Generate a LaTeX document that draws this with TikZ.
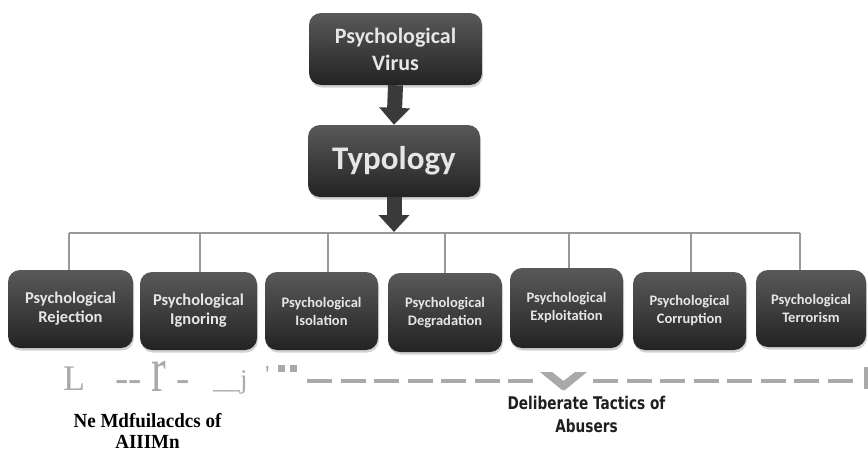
\documentclass[tikz,border=0pt]{standalone}
\usepackage{fontspec}
\usepackage{graphicx}
\setmainfont{Liberation Serif}
\newfontfamily\boxfont{Carlito}
\newfontfamily\tacfont[FakeStretch=0.78]{DejaVu Sans}
\newfontfamily\capfont[FakeStretch=0.95]{Liberation Serif}
\usetikzlibrary{arrows.meta,shadows}
\definecolor{boxtop}{HTML}{595959}
\definecolor{boxbot}{HTML}{232323}
\definecolor{boxtxt}{HTML}{E6E6E6}
\definecolor{connc}{HTML}{999999}
\definecolor{faint}{HTML}{A9A9A9}
\definecolor{arrowc}{HTML}{3A3A3A}
\begin{document}
\begin{tikzpicture}[x=1pt,y=-1pt,
  darkbox/.style={rounded corners=12pt, top color=boxtop, bottom color=boxbot, draw=none,
    text=boxtxt, align=center, inner sep=0pt,
    drop shadow={opacity=0.35, shadow xshift=1pt, shadow yshift=-2.5pt}},
  bigtxt/.style={font=\boxfont\bfseries\fontsize{16.5}{19}\selectfont},
  smalltxt/.style={font=\boxfont\bfseries\fontsize{14.5}{18}\selectfont},
  conn/.style={draw=connc, line width=2pt},
  blockarrow/.style={draw=arrowc, line width=15pt, -{Triangle[width=30pt,length=17pt]}},
  faintline/.style={draw=faint, line width=4pt},
  faintext/.style={text=faint, inner sep=0pt, anchor=base west}
]
\useasboundingbox (0,0) rectangle (868,453);
\fill[white] (0,0) rectangle (868,453);

% top boxes
\node[darkbox, minimum width=173pt, minimum height=72pt,
  font=\boxfont\bfseries\fontsize{22}{27}\selectfont] (virus) at (395.5,49) {Psychological\\Virus};
\node[darkbox, minimum width=172pt, minimum height=72pt,
  font=\boxfont\bfseries\fontsize{33}{36}\selectfont] (typo) at (394,161) {Typology};

% bottom boxes
\node[darkbox, bigtxt, minimum width=125pt, minimum height=78pt] (b1) at (70.5,309) {Psychological\\Rejection};
\node[darkbox, bigtxt, minimum width=117pt, minimum height=78pt] (b2) at (198.5,311) {Psychological\\Ignoring};
\node[darkbox, smalltxt, minimum width=113pt, minimum height=78pt] (b3) at (321.5,311) {Psychological\\Isolation};
\node[darkbox, smalltxt, minimum width=114pt, minimum height=79pt] (b4) at (445,312.5) {Psychological\\Degradation};
\node[darkbox, smalltxt, minimum width=113pt, minimum height=80pt] (b5) at (566.5,308) {Psychological\\Exploitation};
\node[darkbox, smalltxt, minimum width=113pt, minimum height=78pt] (b6) at (689.5,311) {Psychological\\Corruption};
\node[darkbox, smalltxt, minimum width=110pt, minimum height=77pt] (b7) at (811,308.5) {Psychological\\Terrorism};

% arrows
\coordinate (hub) at (394,233);
\draw[blockarrow] (virus.south) -- (typo.north);
\draw[blockarrow] (typo.south) -- ([yshift=1pt]hub);

% bus
\draw[conn] ([xshift=-1.5pt]b1.north |- hub) -- ([xshift=-11pt]b7.north |- hub);
\draw[conn] ([xshift=-1.5pt]b1.north) -- ([xshift=-1.5pt]b1.north |- hub);
\draw[conn] ([xshift=1.5pt]b2.north) -- ([xshift=1.5pt]b2.north |- hub);
\draw[conn] ([xshift=6.5pt]b3.north) -- ([xshift=6.5pt]b3.north |- hub);
\draw[conn] (b4.north) -- (b4.north |- hub);
\draw[conn] ([xshift=2.5pt]b5.north) -- ([xshift=2.5pt]b5.north |- hub);
\draw[conn] ([xshift=1.5pt]b6.north) -- ([xshift=1.5pt]b6.north |- hub);
\draw[conn] ([xshift=-11pt]b7.north) -- ([xshift=-11pt]b7.north |- hub);

% faint bracket remnants
\node[faintext, font=\fontsize{36}{36}\selectfont] (gL) at (63,390) {L};
\node[faintext, font=\fontsize{40}{40}\selectfont] (gr) at (115,391) {-{}-\hspace{10pt}\scalebox{1.1}[1.6]{r}\hspace{10pt}-};
\node[faintext, font=\fontsize{27}{27}\selectfont] (gj) at (213,388) {\_\_j};
\node[faintext, font=\fontsize{26}{26}\selectfont] (gq) at (265,383) {\textquotesingle};
\fill[faint] (278,365) rectangle (285,372);
\fill[faint] (290,365) rectangle (297,372);
\draw[faintline, dash pattern=on 25pt off 8.5pt] (307,381) -- (535,381);
\draw[faintline, dash pattern=on 25pt off 8.5pt] (593,381) -- (853,381);
\fill[faint] (540,372) -- (552,372) -- (563.5,381) -- (575,372) -- (587,372) -- (565,390) -- (562,390) -- cycle;
\draw[faintline] (866,367) -- (866,389);

% captions
\node[align=center, inner sep=0pt, anchor=base, font=\capfont\bfseries\fontsize{20}{21}\selectfont] (cap1) at (147.5,448) {Ne Mdfuilacdcs of\\AIIIMn};
\node[align=center, inner sep=0pt, anchor=base, text={black!88}, font=\tacfont\bfseries\fontsize{17.5}{23}\selectfont] (cap2) at (586.5,432) {Deliberate Tactics of\\Abusers};
\end{tikzpicture}
\end{document}
